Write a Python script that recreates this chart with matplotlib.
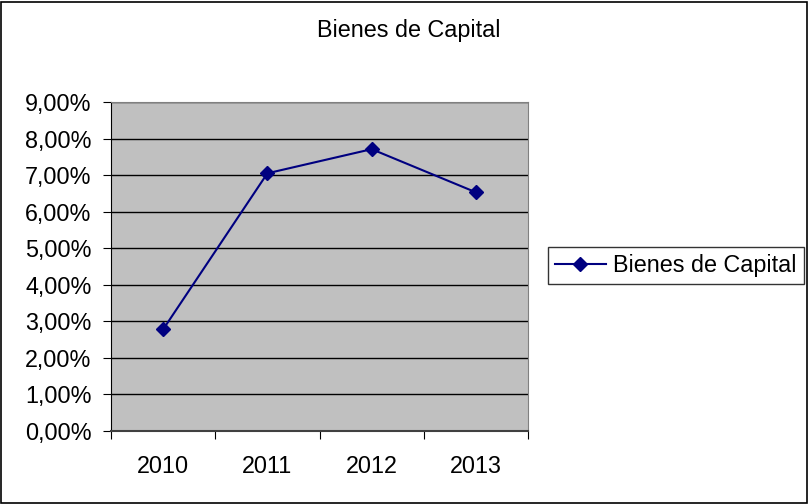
import matplotlib
matplotlib.use("Agg")
import matplotlib.pyplot as plt
from matplotlib.patches import Rectangle
from matplotlib.ticker import FuncFormatter, FixedLocator

plt.rcParams['font.family'] = ['Liberation Sans', 'DejaVu Sans']

anios = ["2010", "2011", "2012", "2013"]
valores = [2.78, 7.05, 7.71, 6.53]

fig = plt.figure(figsize=(8.09, 5.04), dpi=100)
fig.patches.append(Rectangle((0.001, 0.001), 0.997, 0.996, transform=fig.transFigure,
                             fill=False, edgecolor="black", linewidth=1.2))

ax = fig.add_axes([0.1372, 0.1448, 0.5155, 0.6528])
ax.set_facecolor("#C0C0C0")

x = list(range(len(anios)))
linea, = ax.plot(x, valores, color="#000080", marker="D", markersize=7,
                 linewidth=1.5, label="Bienes de Capital", zorder=3)

ax.set_xlim(-0.5, len(anios) - 0.5)
ax.set_ylim(0, 9)
ax.set_yticks(range(0, 10))
ax.yaxis.set_major_formatter(FuncFormatter(lambda v, p: f"{v:.2f}%".replace(".", ",")))
ax.grid(axis="y", color="black", linewidth=1)
ax.set_axisbelow(True)

# ticks on category boundaries, labels centred
ax.xaxis.set_major_locator(FixedLocator([i - 0.5 for i in range(len(anios) + 1)]))
ax.xaxis.set_major_formatter(FuncFormatter(lambda v, p: ""))
ax.set_xticks(x, minor=True)
ax.set_xticklabels(anios, minor=True)
ax.tick_params(axis="x", which="minor", length=0, pad=17, labelsize=16.8)
ax.tick_params(axis="x", which="major", length=6, direction="out", color="black")
ax.tick_params(axis="y", length=6, direction="out", labelsize=16.8, pad=8)

ax.spines["left"].set_color("black")
ax.spines["bottom"].set_color("#404040")
ax.spines["bottom"].set_linewidth(1.5)
ax.spines["top"].set_color("#808080")
ax.spines["right"].set_color("#808080")

fig.text(0.505, 0.94, "Bienes de Capital", ha="center", va="center", fontsize=16.8)

leg = fig.legend(handles=[linea], loc="center left", bbox_to_anchor=(0.677, 0.473),
                 frameon=True, fancybox=False, fontsize=16.8, handlelength=2.2,
                 borderpad=0.3, handletextpad=0.3, borderaxespad=0)
leg.get_frame().set_edgecolor("black")
leg.get_frame().set_linewidth(1)

fig.savefig("out.png", dpi=100)
